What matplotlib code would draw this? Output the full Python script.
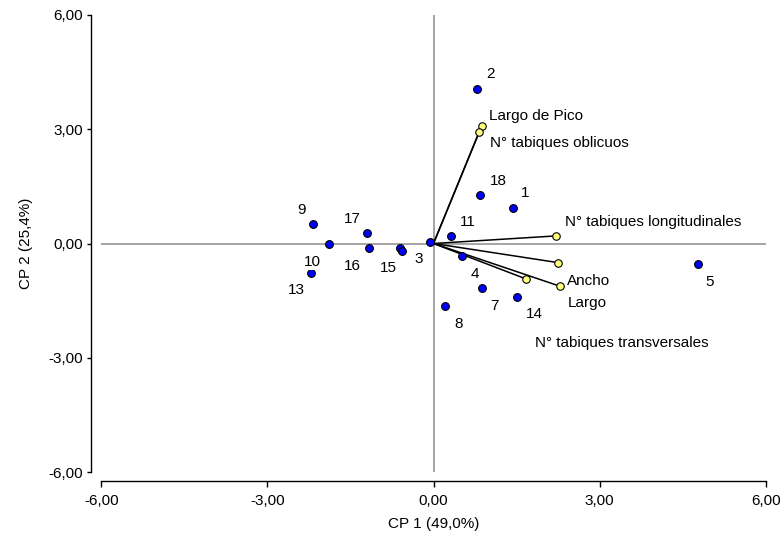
import matplotlib
matplotlib.use("Agg")
import matplotlib.pyplot as plt

plt.rcParams['font.family'] = ['Liberation Sans', 'DejaVu Sans']

# observations (CP1, CP2)
obs_labels = ["2", "18", "1", "11", "3", "4", "7", "8", "14", "5",
              "9", "17", "10", "16", "13", "15", ""]
obs_cp1 = [0.79, 0.84, 1.44, 0.32, -0.06, 0.52, 0.87, 0.21, 1.51, 4.77,
           -2.18, -1.20, -1.89, -1.17, -2.21, -0.61, -0.56]
obs_cp2 = [4.06, 1.27, 0.93, 0.20, 0.03, -0.32, -1.16, -1.63, -1.40, -0.54,
           0.50, 0.27, 0.00, -0.13, -0.78, -0.12, -0.19]

# variables (vector ends)
var_labels = ["Largo de Pico", "N° tabiques oblicuos", "N° tabiques longitudinales",
              "N° tabiques transversales", "Ancho", "Largo"]
var_cp1 = [0.87, 0.83, 2.22, 2.24, 1.67, 2.28]
var_cp2 = [3.09, 2.94, 0.20, -0.50, -0.93, -1.12]

ticks = [-6, -3, 0, 3, 6]
tick_labels = ["-6,00", "-3,00", "0,00", "3,00", "6,00"]

# label offsets in pixels (dx right, dy up)
obs_off = [(13, 15), (18, 14), (12, 15), (17, 14), (-11, -17), (13, -18), (13, -18),
           (13, -18), (17, -17), (12, -18), (-11, 14), (-15, 14), (-16, -18),
           (-16, -18), (-15, -17), (-11, -20), (0, 0)]
var_off = [(7, 10), (11, -11), (9, 14), (-23, -80), (41, -2), (8, -17)]

px = 72 / 100

fig = plt.figure(figsize=(7.83, 5.35), dpi=100)
ax = fig.add_axes([101.3 / 783, 1 - 472 / 535, 664.4 / 783, 457 / 535])

ax.axhline(0, color='#8c8c8c', lw=1.1, zorder=1)
ax.axvline(0, color='#8c8c8c', lw=1.1, zorder=1)

for x, y in zip(var_cp1, var_cp2):
    ax.plot([0, x], [0, y], color='black', lw=1.1, zorder=2)

ax.plot(var_cp1, var_cp2, 'o', ms=5.4, mfc='#ffff80', mec='black', mew=0.8, zorder=3)
ax.plot(obs_cp1, obs_cp2, 'o', ms=5.6, mfc='#0000ff', mec='black', mew=0.8, zorder=3)

for lab, x, y, (dx, dy) in zip(obs_labels, obs_cp1, obs_cp2, obs_off):
    if not lab:
        continue
    # white box so labels cover marks underneath, like the original
    ax.annotate(lab, (x, y), xytext=(dx * px, dy * px), textcoords='offset points',
                ha='center', va='center', fontsize=11, zorder=4,
                bbox=dict(fc='white', ec='none', pad=0.8))

for lab, x, y, (dx, dy) in zip(var_labels, var_cp1, var_cp2, var_off):
    ax.annotate(lab, (x, y), xytext=(dx * px, dy * px), textcoords='offset points',
                ha='left', va='center', fontsize=11, zorder=4,
                bbox=dict(fc='white', ec='none', pad=0.5))

ax.set_xlim(-6, 6)
ax.set_ylim(-6, 6)
ax.set_xticks(ticks)
ax.set_xticklabels(tick_labels)
ax.set_yticks(ticks)
ax.set_yticklabels(tick_labels)

for s in ['top', 'right']:
    ax.spines[s].set_visible(False)
ax.spines['left'].set_position(('outward', 10 * px))
ax.spines['bottom'].set_position(('outward', 9 * px))
ax.spines['left'].set_linewidth(1.0)
ax.spines['bottom'].set_linewidth(1.0)
ax.tick_params(axis='y', length=3, width=1.0, pad=3, labelsize=11)
ax.tick_params(axis='x', length=4.5, width=1.0, pad=5, labelsize=11)

ax.set_xlabel("CP 1 (49,0%)", fontsize=11, labelpad=6)
ax.set_ylabel("CP 2 (25,4%)", fontsize=11, labelpad=11)

fig.savefig("out.png", dpi=100)
